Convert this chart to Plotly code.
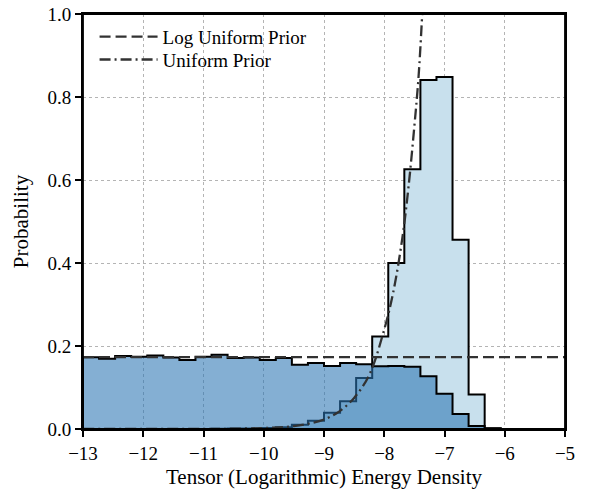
import plotly.graph_objects as go

# 30 bins from -13 to -5
bin_lo = -13.0
bin_hi = -5.0
n_bins = 30

# Posterior histogram with log-uniform prior (medium blue)
log_uniform_post = [0.173, 0.169, 0.176, 0.174, 0.177, 0.172, 0.166, 0.174, 0.179, 0.171,
                    0.172, 0.166, 0.171, 0.155, 0.159, 0.152, 0.159, 0.156, 0.151, 0.152,
                    0.150, 0.127, 0.085, 0.036, 0.007, 0.001, 0.0, 0.0, 0.0, 0.0]

# Posterior histogram with uniform prior (light blue)
uniform_post = [0.0, 0.0, 0.0, 0.0, 0.0, 0.0, 0.0, 0.0003, 0.0006, 0.001,
                0.0015, 0.0025, 0.004, 0.010, 0.020, 0.039, 0.067, 0.123, 0.223, 0.400,
                0.626, 0.841, 0.848, 0.456, 0.083, 0.002, 0.0, 0.0, 0.0, 0.0]

# Log-uniform prior density (flat)
log_prior_x = [-13.0, -5.0]
log_prior_y = [0.173, 0.173]

# Uniform prior density in log space
uni_prior_x = [-13.0, -11.0, -10.5, -10.0, -9.75, -9.5, -9.25, -9.0, -8.75, -8.5,
               -8.25, -8.0, -7.85, -7.7, -7.6, -7.5, -7.43, -7.37]
uni_prior_y = [0.0, 0.0002, 0.0007, 0.0023, 0.004, 0.007, 0.013, 0.023, 0.042, 0.075,
               0.13, 0.24, 0.33, 0.46, 0.58, 0.73, 0.85, 1.0]

x_ticks = [-13, -12, -11, -10, -9, -8, -7, -6, -5]
y_ticks = [0.0, 0.2, 0.4, 0.6, 0.8, 1.0]

width = (bin_hi - bin_lo) / n_bins
edges = [bin_lo + i * width for i in range(n_bins + 1)]


def step_xy(vals):
    xs = [edges[0]] + edges + [edges[-1]]
    ys = [0.0] + list(vals) + [vals[-1], 0.0]
    return xs, ys


FONT = "Liberation Serif, Times New Roman, Times, serif"
fig = go.Figure()

bx, by = step_xy(uniform_post)
fig.add_trace(go.Scatter(x=bx, y=by, mode="lines", line=dict(shape="hv", color="black", width=2),
                         fill="tozeroy", fillcolor="rgb(200,224,237)", showlegend=False, hoverinfo="skip"))

ax, ay = step_xy(log_uniform_post)
fig.add_trace(go.Scatter(x=ax, y=ay, mode="lines", line=dict(shape="hv", color="black", width=2),
                         fill="tozeroy", fillcolor="rgba(43,117,179,0.58)", showlegend=False, hoverinfo="skip"))

fig.add_trace(go.Scatter(x=log_prior_x, y=log_prior_y, mode="lines", name="Log Uniform Prior",
                         legend="legend",
                         line=dict(color="rgb(50,50,50)", width=2.3, dash="11px,5px")))
fig.add_trace(go.Scatter(x=uni_prior_x, y=uni_prior_y, mode="lines", name="Uniform Prior",
                         legend="legend2",
                         line=dict(color="rgb(50,50,50)", width=2.3, dash="11px,4px,2px,4px", shape="spline")))

axis_common = dict(showline=True, linecolor="black", linewidth=1.8, mirror=True,
                   ticks="outside", ticklen=6, tickwidth=1.5, tickcolor="black",
                   showgrid=True, gridcolor="rgb(180,180,180)", gridwidth=1, griddash="dot",
                   zeroline=False, automargin=False, ticklabeloverflow="allow",
                   tickfont=dict(family=FONT, size=19, color="black"))

fig.update_xaxes(range=[bin_lo, bin_hi], tickvals=x_ticks, **axis_common,
                 title=dict(text="Tensor (Logarithmic) Energy Density", font=dict(family=FONT, size=21, color="black"), standoff=7))
fig.update_yaxes(range=[0, 1.0], tickvals=y_ticks, tickformat=".1f", **axis_common,
                 title=dict(text="Probability", font=dict(family=FONT, size=21, color="black"), standoff=13))

# frame on top
fig.add_shape(type="rect", xref="paper", yref="paper", x0=0, x1=1, y0=0, y1=1,
              line=dict(color="black", width=1.8), layer="above")

leg_common = dict(xanchor="left", yanchor="middle", bgcolor="rgba(0,0,0,0)", borderwidth=0,
                  itemwidth=58, font=dict(family=FONT, size=19, color="black"))

fig.update_layout(width=596, height=489, margin=dict(l=83, r=31, t=14, b=60, autoexpand=False),
                  plot_bgcolor="white", paper_bgcolor="white",
                  legend=dict(x=0.024, y=0.945, **leg_common),
                  legend2=dict(x=0.024, y=0.890, **leg_common))

fig.write_html("out.html", config={"displayModeBar": False},
               post_script="document.body.style.margin='0';document.body.style.overflow='hidden';")
